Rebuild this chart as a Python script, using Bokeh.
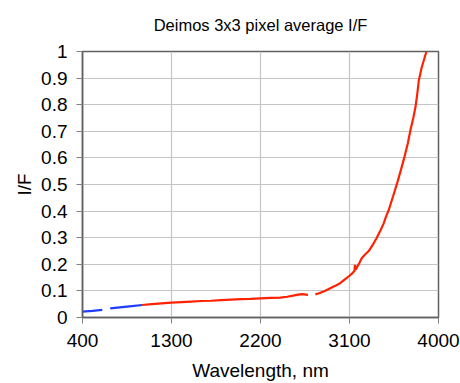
from bokeh.plotting import figure
from bokeh.models import FixedTicker, Range1d
from bokeh.embed import file_html
from bokeh.resources import INLINE

nan = float("nan")

# Blue segment (short-wavelength part, with a gap)
blue_wl = [400, 500, 600, nan, 680, 800, 900, 1003]
blue_if = [0.022, 0.025, 0.029, nan, 0.034, 0.039, 0.043, 0.047]

# Red segment
red_wl = [1003, 1100, 1200, 1300, 1400, 1500, 1600, 1700, 1800, 1900, 2000,
          2100, 2200, 2300, 2400, 2470, 2530, 2580, 2620, 2660, 2680, nan,
          2755, 2800, 2850, 2905, 2950, 3006, 3050, 3100, 3130, 3150, 3155,
          3162, 3200, 3225, 3260, 3292, 3330, 3376, 3410, 3443, 3470, 3497,
          3540, 3581, 3620, 3656, 3690, 3716, 3745, 3767, 3785, 3801, 3830, 3878]
red_if = [0.047, 0.050, 0.053, 0.056, 0.058, 0.060, 0.062, 0.063, 0.065, 0.067, 0.069,
          0.070, 0.072, 0.074, 0.075, 0.078, 0.082, 0.086, 0.088, 0.086, 0.085, nan,
          0.087, 0.092, 0.100, 0.110, 0.118, 0.129, 0.142, 0.157, 0.167, 0.175, 0.198,
          0.180, 0.205, 0.224, 0.238, 0.249, 0.270, 0.300, 0.325, 0.351, 0.380, 0.404,
          0.455, 0.504, 0.555, 0.604, 0.655, 0.704, 0.750, 0.791, 0.840, 0.891, 0.940, 1.0]

x_ticks = [400, 1300, 2200, 3100, 4000]
y_ticks = [0, 0.1, 0.2, 0.3, 0.4, 0.5, 0.6, 0.7, 0.8, 0.9, 1]

FONT = "Liberation Sans"

p = figure(width=460, height=383, output_backend="svg", toolbar_location=None,
           x_range=Range1d(400, 4000), y_range=Range1d(0, 1),
           min_border_left=82, min_border_right=22, min_border_top=51,
           min_border_bottom=65)

p.title.text = "Deimos 3x3 pixel average I/F"
p.title.align = "center"
p.title.vertical_align = "top"
p.title.text_font = FONT
p.title.text_font_size = "16.5px"
p.title.text_font_style = "normal"
p.title.text_color = "#000000"
p.title.standoff = 31

p.line(blue_wl, blue_if, line_color="#1f3dff", line_width=2.2)
p.line(red_wl, red_if, line_color="#ff2200", line_width=2.2)

p.xaxis.ticker = FixedTicker(ticks=x_ticks)
p.yaxis.ticker = FixedTicker(ticks=y_ticks)
p.yaxis.major_label_overrides = {0: "0", 1: "1"}

for ax in (p.xaxis[0], p.yaxis[0]):
    ax.major_label_text_font = FONT
    ax.major_label_text_font_size = "19px"
    ax.major_label_text_color = "#000000"
    ax.axis_label_text_font = FONT
    ax.axis_label_text_font_size = "19px"
    ax.axis_label_text_font_style = "normal"
    ax.axis_label_text_color = "#000000"
    ax.axis_line_color = "#606060"
    ax.axis_line_width = 1.5
    ax.major_tick_line_color = "#808080"
    ax.major_tick_in = 0
    ax.major_tick_out = 6
    ax.minor_tick_line_color = None

p.xaxis.axis_label = "Wavelength, nm"
p.yaxis.axis_label = "I/F"
p.xaxis.major_label_standoff = 10
p.xaxis.axis_label_standoff = 10
p.yaxis.major_label_standoff = 9
p.yaxis.axis_label_standoff = 3

p.xgrid.grid_line_color = "#c4c4c4"
p.ygrid.grid_line_color = "#c4c4c4"
p.xgrid.grid_line_width = 1.2
p.ygrid.grid_line_width = 1.2
p.outline_line_color = "#606060"
p.outline_line_width = 1.5
p.background_fill_color = "#ffffff"
p.border_fill_color = "#ffffff"

open("out.html", "w").write(file_html(p, INLINE))
